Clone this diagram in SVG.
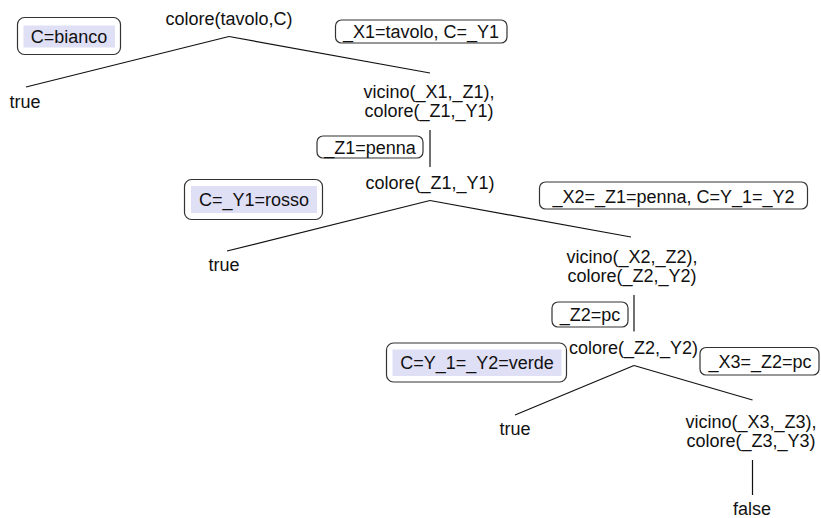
<svg xmlns="http://www.w3.org/2000/svg" width="821" height="518" viewBox="0 0 821 518">
<style>
text{font-family:"Liberation Sans",Arial,Helvetica,sans-serif;font-size:18px;fill:#111;text-anchor:middle}
.edge{stroke:#111;stroke-width:1.2;fill:none}
.box{fill:none;stroke:#333;stroke-width:1.2}
.ans{fill:#fff;stroke:#333;stroke-width:1.2}
.hl{fill:#dfdff6;stroke:none}
</style>
<rect width="821" height="518" fill="#fff"/>
<g id="connectors">
<line class="edge" x1="229" y1="36.5" x2="26" y2="87"/>
<line class="edge" x1="229" y1="36.5" x2="430" y2="73"/>
<line class="edge" x1="430" y1="130" x2="430" y2="167"/>
<line class="edge" x1="430" y1="200.5" x2="227" y2="251"/>
<line class="edge" x1="430" y1="200.5" x2="631" y2="237"/>
<line class="edge" x1="634" y1="295" x2="634" y2="331.5"/>
<line class="edge" x1="634" y1="365.5" x2="515" y2="415"/>
<line class="edge" x1="634" y1="365.5" x2="752.5" y2="400"/>
<line class="edge" x1="752.5" y1="460" x2="752.5" y2="495"/>
</g>
<g id="node-root"><text x="229" y="25">colore(tavolo,C)</text></g>
<g id="node-true1"><text x="25" y="107.5">true</text></g>
<g id="node-goal1"><text x="429" y="97.5">vicino(_X1,_Z1),</text><text x="429" y="117">colore(_Z1,_Y1)</text></g>
<g id="node-goal2"><text x="430" y="188.5">colore(_Z1,_Y1)</text></g>
<g id="node-true2"><text x="224" y="270.5">true</text></g>
<g id="node-goal3"><text x="632" y="262.5">vicino(_X2,_Z2),</text><text x="632" y="282">colore(_Z2,_Y2)</text></g>
<g id="node-goal4"><text x="633.5" y="354">colore(_Z2,_Y2)</text></g>
<g id="node-true3"><text x="515" y="435">true</text></g>
<g id="node-goal5"><text x="751" y="427.5">vicino(_X3,_Z3),</text><text x="751" y="447">colore(_Z3,_Y3)</text></g>
<g id="node-false"><text x="752" y="515">false</text></g>
<g id="answer-bianco"><rect class="ans" x="17.5" y="17.5" width="103" height="37" rx="7"/><rect class="hl" x="23.5" y="25.5" width="91.5" height="22"/><text x="69" y="42.5">C=bianco</text></g>
<g id="answer-rosso"><rect class="ans" x="184.5" y="179.5" width="138" height="40" rx="7"/><rect class="hl" x="191" y="186" width="126" height="27"/><text x="254" y="206">C=_Y1=rosso</text></g>
<g id="answer-verde"><rect class="ans" x="386.5" y="343" width="180" height="39" rx="7"/><rect class="hl" x="392.5" y="349.5" width="169" height="26.5"/><text x="477" y="368.5">C=Y_1=_Y2=verde</text></g>
<g id="unif-x1"><rect class="box" x="335.5" y="20" width="171.5" height="23" rx="6"/><text x="421" y="38">_X1=tavolo, C=_Y1</text></g>
<g id="unif-z1"><rect class="box" x="317" y="136" width="106" height="22" rx="6"/><text x="370" y="153.5">_Z1=penna</text></g>
<g id="unif-x2"><rect class="box" x="539.5" y="182" width="268" height="27" rx="6"/><text x="673.5" y="202.5">_X2=_Z1=penna, C=Y_1=_Y2</text></g>
<g id="unif-z2"><rect class="box" x="552" y="302" width="76" height="25" rx="6"/><text x="590" y="321">_Z2=pc</text></g>
<g id="unif-x3"><rect class="box" x="700" y="347.5" width="119" height="27.5" rx="6"/><text x="760" y="368">_X3=_Z2=pc</text></g>
</svg>
